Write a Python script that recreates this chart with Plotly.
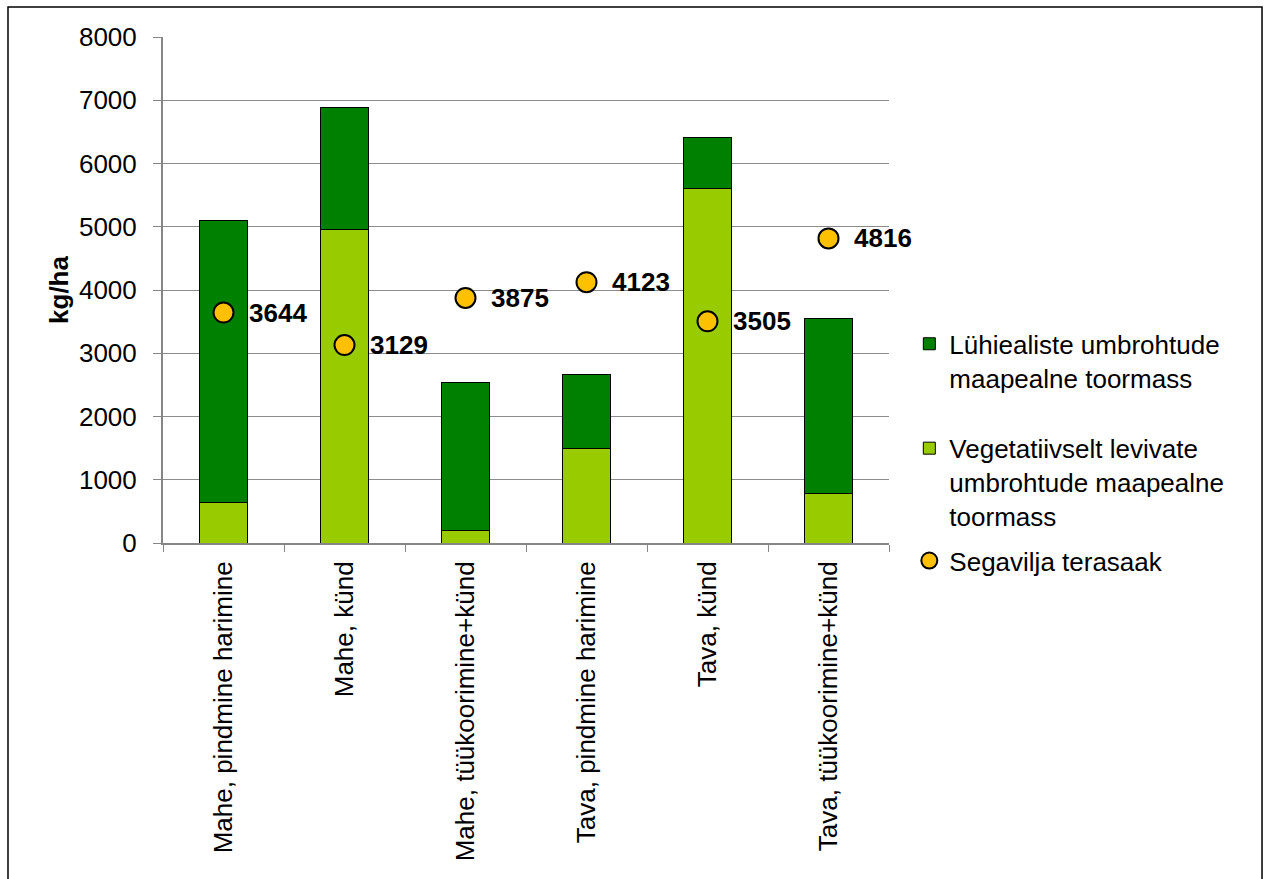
import plotly.graph_objects as go

categories = [
    "Mahe, pindmine harimine",
    "Mahe, künd",
    "Mahe, tüükoorimine+künd",
    "Tava, pindmine harimine",
    "Tava, künd",
    "Tava, tüükoorimine+künd",
]
vegetative = [640, 4950, 200, 1490, 5600, 780]
short_lived = [4460, 1930, 2330, 1175, 806, 2777]
grain_yield = [3644, 3129, 3875, 4123, 3505, 4816]

name_short = "Lühiealiste umbrohtude<br>maapealne toormass<br> "
name_veg = "Vegetatiivselt levivate<br>umbrohtude maapealne<br>toormass"
name_yield = "Segavilja terasaak"

FONT = "Liberation Sans, Arial, sans-serif"
FS = 26

fig = go.Figure()
fig.add_trace(go.Bar(
    x=categories, y=vegetative, name=name_veg, legendrank=2, legendgroup="weeds",
    marker=dict(color="#99CC00", line=dict(color="black", width=1)),
    width=0.4,
))
fig.add_trace(go.Bar(
    x=categories, y=short_lived, name=name_short, legendrank=1, legendgroup="weeds",
    marker=dict(color="#008000", line=dict(color="black", width=1)),
    width=0.4,
))
fig.add_trace(go.Scatter(
    x=categories, y=grain_yield, name=name_yield, mode="markers", legendrank=3,
    legendgroup="yield",
    marker=dict(color="#FFC000", size=20, line=dict(color="black", width=2)),
))

for c, v in zip(categories, grain_yield):
    fig.add_annotation(
        x=c, y=v, text=f"<b>{v}</b>", showarrow=False,
        xanchor="left", yanchor="middle", xshift=23,
        font=dict(size=FS, color="black", family=FONT),
    )

# outer chart frame
fig.add_shape(
    type="rect", xref="paper", yref="paper",
    x0=-0.2135, x1=1.5138, y0=-0.75, y1=1.0593,
    line=dict(color="black", width=1.5), fillcolor="rgba(0,0,0,0)", layer="below",
)

fig.update_layout(
    width=1266, height=879,
    margin=dict(l=163, r=377, t=37, b=336),
    barmode="stack",
    plot_bgcolor="white", paper_bgcolor="white",
    font=dict(family=FONT, size=FS, color="black"),
    showlegend=True,
    legend=dict(
        x=1.028, y=0.44, xanchor="left", yanchor="top",
        font=dict(size=FS, family=FONT), traceorder="grouped",
        tracegroupgap=8, itemwidth=30, valign="top",
    ),
    xaxis=dict(
        range=[-0.5, len(categories) - 0.5],
        tickangle=-90, tickfont=dict(size=FS),
        showline=True, linecolor="#868686", linewidth=2,
        ticks="outside", tickson="boundaries", ticklen=7, tickcolor="#868686",
        ticklabelstandoff=6, showgrid=False,
    ),
    yaxis=dict(
        range=[0, 8000], dtick=1000, tickfont=dict(size=FS),
        showline=True, linecolor="#868686", linewidth=2,
        ticks="outside", ticklen=8, tickcolor="#868686",
        ticklabelstandoff=11,
        gridcolor="#8c8c8c", gridwidth=1,
        title=dict(text="<b>kg/ha</b>", font=dict(size=FS), standoff=3),
        zeroline=False,
    ),
)

fig.write_html("out.html")
